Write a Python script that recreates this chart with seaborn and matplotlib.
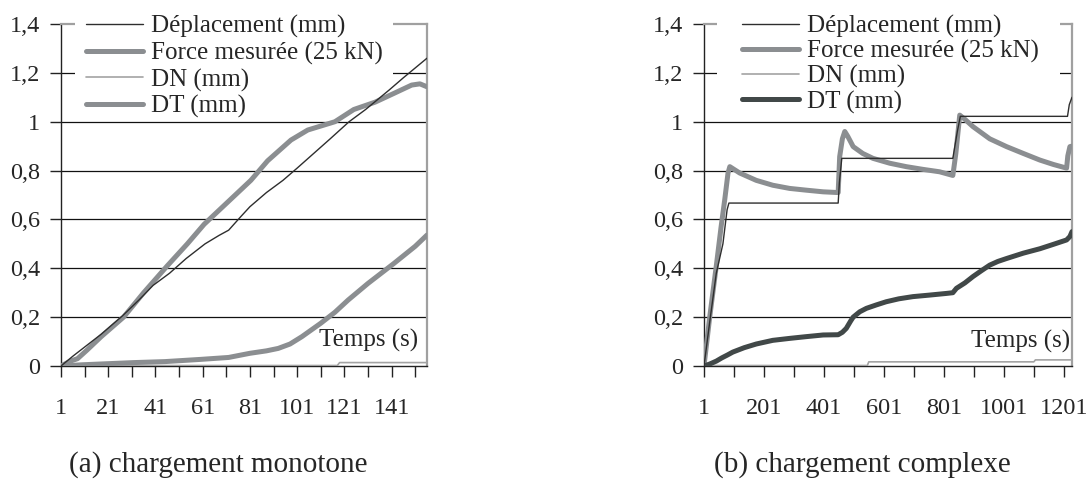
import matplotlib
matplotlib.use("Agg")
import matplotlib.pyplot as plt
from matplotlib.patches import Rectangle
import seaborn as sns
import pandas as pd

# ---------------- data : (a) chargement monotone ----------------
t_a_dep = [1, 6, 12, 18, 27, 34, 40, 47, 54, 62, 68, 72, 77, 81, 88, 95, 101, 108, 115, 123, 130, 135, 140, 146, 151, 156]
dep_a = [0, 0.04, 0.085, 0.13, 0.205, 0.27, 0.33, 0.38, 0.44, 0.50, 0.535, 0.556, 0.61, 0.652, 0.71, 0.76, 0.81, 0.87, 0.93, 1.0, 1.05, 1.09, 1.13, 1.18, 1.22, 1.26]

t_a_force = [1, 5, 8, 12, 18, 27.5, 36, 46, 54.5, 61.6, 71.5, 81.4, 88.5, 98.4, 105.5, 117, 125, 134, 142, 149.5, 153, 156]
force_a = [0, 0.02, 0.03, 0.065, 0.12, 0.20, 0.30, 0.41, 0.50, 0.58, 0.67, 0.76, 0.84, 0.925, 0.966, 1.0, 1.05, 1.08, 1.116, 1.15, 1.155, 1.143]

t_a_dn = [1, 118, 119, 156]
dn_a = [0.002, 0.002, 0.014, 0.014]

t_a_dt = [1, 10, 32, 45, 60, 72, 81, 88, 93, 98, 103, 111, 117, 122.6, 131, 142, 151, 156]
dt_a = [0, 0.005, 0.014, 0.018, 0.027, 0.035, 0.052, 0.062, 0.072, 0.09, 0.12, 0.175, 0.22, 0.27, 0.338, 0.42, 0.49, 0.536]

# ---------------- data : (b) chargement complexe ----------------
t_b_dep = [1, 20, 42, 64, 78, 84, 448, 452, 460, 830, 845, 855, 1212, 1218, 1227]
dep_b = [0, 0.18, 0.38, 0.50, 0.64, 0.667, 0.667, 0.75, 0.85, 0.85, 0.96, 1.022, 1.022, 1.07, 1.1]

t_b_force = [1, 20, 42, 58, 70, 81, 87, 120, 175, 230, 286, 340, 398, 448, 453, 462, 470, 480, 498, 530,
             564, 620, 675, 730, 786, 830, 840, 853, 870, 897, 953, 1009, 1065, 1120, 1165, 1209, 1213, 1220, 1227]
force_b = [0, 0.2, 0.41, 0.57, 0.68, 0.79, 0.816, 0.79, 0.76, 0.74, 0.727, 0.72, 0.713, 0.71, 0.857, 0.93, 0.96, 0.94, 0.898, 0.87,
           0.85, 0.83, 0.816, 0.805, 0.795, 0.78, 0.87, 1.027, 1.01, 0.98, 0.93, 0.898, 0.87, 0.843, 0.825, 0.81, 0.86, 0.898, 0.9]

t_b_dn = [1, 545, 550, 1100, 1105, 1227]
dn_b = [0.002, 0.002, 0.017, 0.017, 0.025, 0.025]

t_b_dt = [1, 20, 42, 60, 79, 97, 135, 175, 230, 286, 340, 398, 448, 462, 475, 490, 498, 520, 542, 575, 608, 650,
          697, 750, 808, 830, 842, 870, 897, 925, 953, 980, 1009, 1065, 1120, 1165, 1209, 1220, 1227]
dt_b = [0, 0.008, 0.02, 0.033, 0.045, 0.057, 0.075, 0.09, 0.105, 0.113, 0.12, 0.127, 0.128, 0.138, 0.154, 0.185, 0.2, 0.222,
        0.236, 0.25, 0.263, 0.275, 0.284, 0.29, 0.297, 0.3, 0.318, 0.34, 0.366, 0.39, 0.413, 0.428, 0.44, 0.462, 0.48, 0.498,
        0.516, 0.53, 0.55]

labels = ["Déplacement (mm)", "Force mesurée (25 kN)", "DN (mm)", "DT (mm)"]
y_ticks = [0, 0.2, 0.4, 0.6, 0.8, 1.0, 1.2, 1.4]
y_labels = ["0", "0,2", "0,4", "0,6", "0,8", "1", "1,2", "1,4"]
captions = ["(a) chargement monotone", "(b) chargement complexe"]

# ---------------- style ----------------
sns.set_theme(style="white")
plt.rcParams['font.family'] = ['Liberation Serif', 'DejaVu Serif']

C_DEP = "#2e2e2e"
C_FORCE = "#8b8e91"
C_DN = "#a3a3a3"
C_DT_A = "#8b8e91"
C_DT_B = "#414848"
C_FRAME = "#a0a0a0"

W, H = 1090, 479
fig = plt.figure(figsize=(W / 100, H / 100), dpi=100)
axA = fig.add_axes([61 / W, 1 - 366 / H, (427 - 61) / W, (366 - 24) / H])
axB = fig.add_axes([704 / W, 1 - 366 / H, (1072 - 704) / W, (366 - 24) / H])


def draw(ax, series, xmax, xt, xl, leg_x, leg_y, lspace, box_px, temps_x, temps_y):
    for (t, v, col, lw, lab, z) in series:
        df = pd.DataFrame({"t": t, "v": v})
        sns.lineplot(data=df, x="t", y="v", ax=ax, color=col, linewidth=lw, label=lab,
                     zorder=z, solid_capstyle="round", sort=False)
    ax.set_xlim(1, xmax)
    ax.set_ylim(0, 1.4)
    ax.set_xlabel("")
    ax.set_ylabel("")
    ax.set_yticks(y_ticks)
    ax.set_yticklabels(y_labels, fontsize=17.5)
    ax.set_xticks(xt)
    ax.set_xticklabels(xl, fontsize=17.5)
    for y in y_ticks[1:-1]:
        ax.axhline(y, color="#111111", linewidth=0.9, zorder=1)
    ax.tick_params(axis="y", direction="out", length=8, width=1, color="#222222", pad=7, left=True)
    ax.tick_params(axis="x", direction="out", length=8, width=1, color="#222222", pad=15, bottom=True)
    for s in ["left", "bottom"]:
        ax.spines[s].set_color("#222222")
        ax.spines[s].set_linewidth(1.0)
    for s in ["top", "right"]:
        ax.spines[s].set_color(C_FRAME)
        ax.spines[s].set_linewidth(1.6)
    # white legend background (covers top frame and 1.2 gridline)
    x0, x1, y0, y1 = box_px
    pos = ax.get_position()
    fx0, fy1 = x0 / W, 1 - y0 / H
    fx1, fy0 = x1 / W, 1 - y1 / H
    rect = Rectangle((fx0, fy0), fx1 - fx0, fy1 - fy0, transform=fig.transFigure,
                     facecolor="white", edgecolor="none", zorder=2.8, clip_on=False)
    ax.add_artist(rect)
    leg = ax.legend(loc="upper left", bbox_to_anchor=(leg_x, leg_y), fontsize=18, frameon=False,
                    handlelength=2.3, handletextpad=0.3, labelspacing=lspace, borderpad=0.15,
                    borderaxespad=0)
    leg.set_zorder(10)
    ax.text(temps_x, temps_y, "Temps (s)", transform=ax.transAxes, ha="right", va="center",
            fontsize=18, zorder=11)


xtA = list(range(1, 152, 10))
xlA = [str(v) if (v - 1) % 20 == 0 else "" for v in xtA]
xtB = list(range(1, 1202, 100))
xlB = [str(v) if (v - 1) % 200 == 0 else "" for v in xtB]

draw(axA, [
    (t_a_dep, dep_a, C_DEP, 1.0, labels[0], 5),
    (t_a_force, force_a, C_FORCE, 3.6, labels[1], 4),
    (t_a_dn, dn_a, C_DN, 1.2, labels[2], 3),
    (t_a_dt, dt_a, C_DT_A, 3.6, labels[3], 4),
], 156, xtA, xlA, 0.057, 1.038, 0.15, (75, 393, 8, 90), 0.975, 0.076)

draw(axB, [
    (t_b_dep, dep_b, C_DEP, 1.0, labels[0], 5),
    (t_b_force, force_b, C_FORCE, 3.6, labels[1], 4),
    (t_b_dn, dn_b, C_DN, 1.2, labels[2], 3),
    (t_b_dt, dt_b, C_DT_B, 3.6, labels[3], 4),
], 1227, xtB, xlB, 0.093, 1.038, 0.085, (717, 1060, 8, 88), 0.995, 0.073)

fig.text(218 / W, 1 - 465 / H, captions[0], ha="center", va="center", fontsize=21)
fig.text(862 / W, 1 - 465 / H, captions[1], ha="center", va="center", fontsize=21)

fig.savefig("out.png", dpi=100)
